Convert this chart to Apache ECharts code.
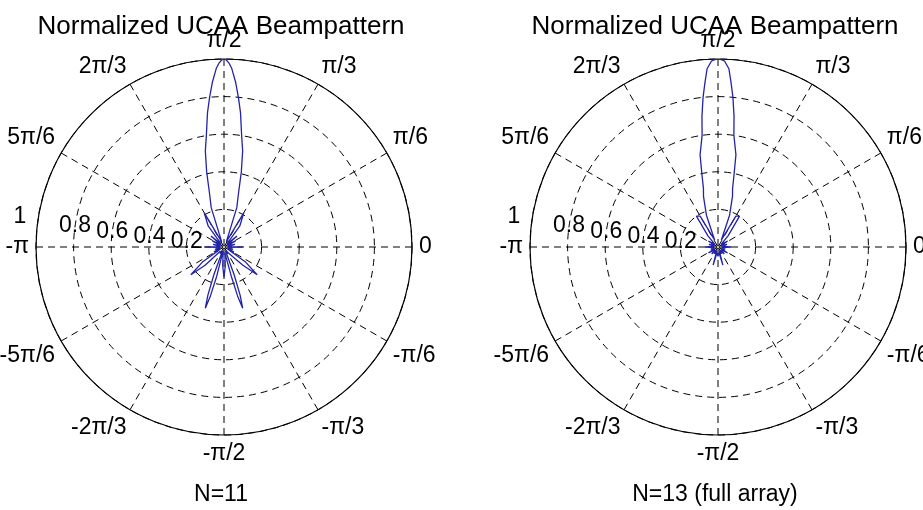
<!DOCTYPE html>
<html>
<head>
<meta charset="utf-8">
<script src="https://cdn.jsdelivr.net/npm/echarts@6/dist/echarts.min.js"></script>
<style>
html, body { margin: 0; padding: 0; background: #fff; }
#chart { width: 923px; height: 510px; }
</style>
</head>
<body>
<div id="chart"></div>
<script>
// angle ticks (degrees) and their labels
var angleTicks = [0, 30, 60, 90, 120, 150, 180, 210, 240, 270, 300, 330, 360];
var angleLabels = ['0', 'π/6', 'π/3', 'π/2', '2π/3', '5π/6', '-π', '-5π/6', '-2π/3', '-π/2', '-π/3', '-π/6', ''];
var radiusTicks = [0.2, 0.4, 0.6, 0.8, 1];
var radiusLabels = ['0.2', '0.4', '0.6', '0.8', '1'];

// N=11 beampattern
var leftAngles = [0, 7, 14, 21, 28, 34, 40, 46, 53, 60, 66, 72, 75, 77, 79, 81, 83, 84.5, 86, 87.5,
    88.5, 89.3, 90, 90.7, 91.5, 92.5, 94, 95.5, 97, 99, 101, 103, 105, 108, 114, 120, 127, 134, 140, 146,
    152, 159, 166, 173, 180, 187, 194, 201, 206, 212, 215, 220, 224, 228, 234, 240, 245, 248, 250, 251.5,
    253, 254.5, 256, 258, 262, 266, 270, 274, 278, 282, 284, 285.5, 287, 288.5, 290, 292, 295, 300, 306, 312,
    316, 320, 325, 328, 333, 339, 346, 353, 360];
var leftGain = [0.10, 0.02, 0.06, 0.02, 0.07, 0.02, 0.09, 0.02, 0.14, 0.21, 0.03, 0.22, 0.30, 0.41, 0.52, 0.60, 0.72, 0.80, 0.88, 0.95,
    0.98, 0.995, 1.00, 0.995, 0.98, 0.95, 0.88, 0.80, 0.72, 0.60, 0.52, 0.41, 0.30, 0.22, 0.03, 0.21, 0.14, 0.02, 0.09, 0.02,
    0.07, 0.02, 0.06, 0.02, 0.10, 0.02, 0.05, 0.02, 0.06, 0.03, 0.14, 0.23, 0.14, 0.03, 0.04, 0.02, 0.04, 0.02, 0.16, 0.27,
    0.34, 0.27, 0.16, 0.02, 0.03, 0.10, 0.16, 0.10, 0.03, 0.02, 0.16, 0.27, 0.34, 0.27, 0.16, 0.02, 0.04, 0.02, 0.04, 0.03,
    0.14, 0.23, 0.14, 0.03, 0.06, 0.02, 0.05, 0.02, 0.10];

// N=13 (full array) beampattern
var rightAngles = [0, 8, 16, 24, 32, 40, 48, 55, 60, 64, 70, 74, 76, 77.6, 79, 81.9, 83, 84.3, 85.5, 86.5,
    88, 89, 90, 91, 92, 93.5, 94.5, 95.7, 97, 98.1, 101, 102.4, 104, 106, 110, 116, 120, 125, 132, 140,
    148, 156, 164, 172, 180, 188, 196, 204, 212, 220, 228, 236, 244, 250, 255, 260, 270, 280, 285, 290,
    296, 304, 312, 320, 328, 336, 344, 352, 360];
var rightGain = [0.07, 0.02, 0.05, 0.02, 0.06, 0.02, 0.08, 0.20, 0.19, 0.04, 0.18, 0.28, 0.32, 0.40, 0.50, 0.60, 0.70, 0.80, 0.88, 0.95,
    0.99, 0.997, 1.00, 0.997, 0.99, 0.95, 0.88, 0.80, 0.70, 0.60, 0.50, 0.40, 0.32, 0.28, 0.18, 0.04, 0.19, 0.20, 0.08, 0.02,
    0.06, 0.02, 0.05, 0.02, 0.07, 0.02, 0.04, 0.02, 0.06, 0.02, 0.05, 0.02, 0.04, 0.02, 0.10, 0.03, 0.05, 0.03, 0.10, 0.02,
    0.04, 0.02, 0.05, 0.02, 0.06, 0.02, 0.04, 0.02, 0.07];

var font = 'Liberation Sans, Arial, sans-serif';
var plots = [
    { cx: 224, cy: 247, r: 188, angles: leftAngles, gain: leftGain, caption: 'N=11' },
    { cx: 718, cy: 247, r: 188, angles: rightAngles, gain: rightGain, caption: 'N=13 (full array)' }
];

function pairs(angles, gain) {
    var out = [];
    for (var i = 0; i < angles.length; i++) {
        out.push([gain[i], angles[i]]);
    }
    return out;
}

var dashed = { color: '#000', width: 1, type: [7, 5] };
var option = {
    backgroundColor: '#fff',
    animation: false,
    title: [],
    polar: [],
    angleAxis: [],
    radiusAxis: [],
    series: []
};

plots.forEach(function(p, k) {
    var main = k * 2, over = k * 2 + 1;
    option.title.push({
        text: 'Normalized UCAA Beampattern',
        left: p.cx - 3, top: 14, textAlign: 'center', padding: 0,
        textStyle: { fontSize: 26, fontWeight: 'normal', color: '#000', fontFamily: font }
    });
    option.title.push({
        text: p.caption,
        left: p.cx - 3, top: 483, textAlign: 'center', padding: 0,
        textStyle: { fontSize: 23, fontWeight: 'normal', color: '#000', fontFamily: font }
    });
    option.polar.push({ center: [p.cx, p.cy], radius: p.r });
    option.polar.push({ center: [p.cx, p.cy], radius: p.r });

    // grid + angle labels
    option.angleAxis.push({
        polarIndex: main,
        type: 'value', min: 0, max: 360, interval: 30,
        startAngle: 0, clockwise: false,
        axisLine: { lineStyle: { color: '#000', width: 1.2 } },
        axisTick: { show: false },
        axisLabel: {
            margin: 7, color: '#000', fontSize: 23, fontFamily: font,
            formatter: function(v) { return angleLabels[angleTicks.indexOf(Math.round(v))] || ''; }
        },
        splitLine: { show: true, lineStyle: dashed }
    });
    option.radiusAxis.push({
        polarIndex: main,
        type: 'value', min: 0, max: 1, interval: 0.2,
        axisLine: { show: false }, axisTick: { show: false }, axisLabel: { show: false },
        splitLine: { show: true, lineStyle: dashed }
    });

    // radius labels along 172 deg
    option.angleAxis.push({
        polarIndex: over, type: 'value', min: 0, max: 360, startAngle: 172, show: false
    });
    option.radiusAxis.push({
        polarIndex: over,
        type: 'value', min: 0, max: 1, interval: 0.2,
        axisLine: { show: false }, axisTick: { show: false }, splitLine: { show: false },
        axisLabel: {
            margin: 0, align: 'center', verticalAlign: 'middle',
            color: '#000', fontSize: 23, fontFamily: font, showMinLabel: false,
            formatter: function(v) {
                var i = radiusTicks.indexOf(Math.round(v * 10) / 10);
                if (i < 0) return '';
                return i === radiusTicks.length - 1 ? '{one|' + radiusLabels[i] + '}' : radiusLabels[i];
            },
            rich: { one: { fontSize: 23, fontFamily: font, color: '#000', padding: [0, 36, 8, 0] } }
        }
    });

    option.series.push({
        type: 'line',
        coordinateSystem: 'polar',
        polarIndex: main,
        showSymbol: false,
        smooth: false,
        lineStyle: { color: '#2323a8', width: 1.3 },
        data: pairs(p.angles, p.gain),
        z: 3
    });
});

var chart = echarts.init(document.getElementById('chart'));
chart.setOption(option);
</script>
</body>
</html>
